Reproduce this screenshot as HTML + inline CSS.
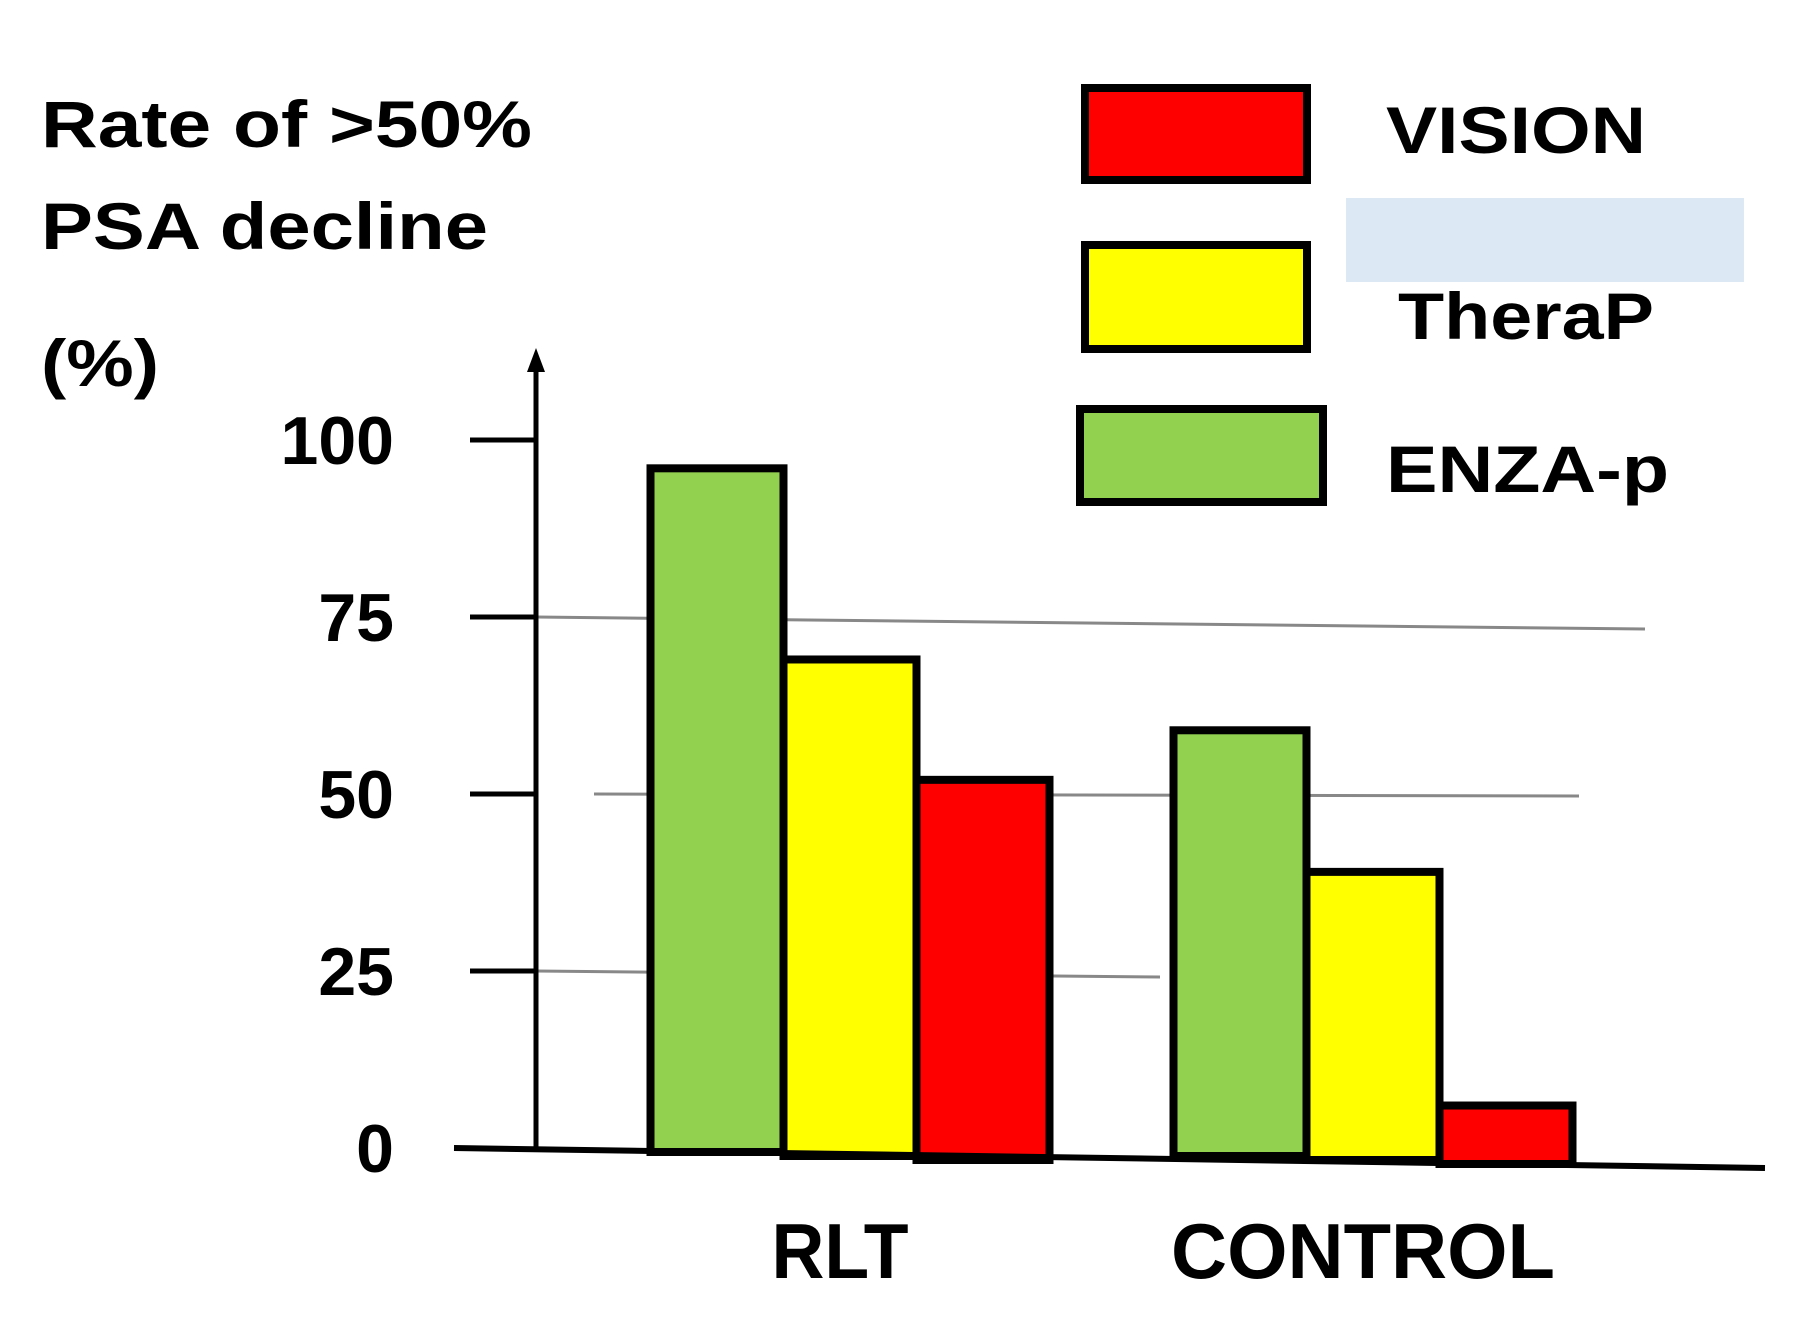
<!DOCTYPE html>
<html><head><meta charset="utf-8"><style>
html,body{margin:0;padding:0;background:#fff;}
svg{display:block;font-family:"Liberation Sans",Arial,sans-serif;font-weight:bold;}
</style></head><body>
<svg id="chart" width="1819" height="1342" viewBox="0 0 1819 1342" xmlns="http://www.w3.org/2000/svg">
<rect x="1346" y="198" width="398" height="84" fill="#dde8f5"/>
<text x="41" y="147" font-size="66" textLength="491" lengthAdjust="spacingAndGlyphs">Rate of &gt;50%</text>
<text x="41" y="249" font-size="66" textLength="447" lengthAdjust="spacingAndGlyphs">PSA decline</text>
<text x="41" y="386" font-size="66" textLength="118" lengthAdjust="spacingAndGlyphs">(%)</text>
<g id="grid"></g>
<g id="bars"></g>
<g id="axes"></g>
<g>
<rect x="1085" y="88" width="222" height="92" fill="#ff0000" stroke="#000" stroke-width="8"/>
<rect x="1085" y="245" width="222" height="104" fill="#ffff00" stroke="#000" stroke-width="8"/>
<rect x="1080" y="409" width="243" height="93" fill="#92d050" stroke="#000" stroke-width="8"/>
<text x="1386" y="153" font-size="66" textLength="260" lengthAdjust="spacingAndGlyphs">VISION</text>
<text x="1398" y="339" font-size="66" textLength="256" lengthAdjust="spacingAndGlyphs">TheraP</text>
<text x="1386" y="492" font-size="66" textLength="283" lengthAdjust="spacingAndGlyphs">ENZA-p</text>
</g>
</svg>
<script>
const categories = ["RLT", "CONTROL"];
const seriesNames = ["ENZA-p", "TheraP", "VISION"];
const enzaValues = [96, 59];
const therapValues = [69, 39];
const visionValues = [52, 6];
const tickValues = [0, 25, 50, 75, 100];
const tickLabels = ["0", "25", "50", "75", "100"];

const NS = "http://www.w3.org/2000/svg";
const y0 = 1148, yTop = 440;
function yScale(v){ return y0 - (v/100)*(y0-yTop); }
const catCenters = [850, 1373];
function xBand(i){ return catCenters[i]; }
const barW = 133;
const colors = ["#92d050", "#ffff00", "#ff0000"];
const series = [enzaValues, therapValues, visionValues];
const labelLens = [137, 384];

function mk(tag, attrs, parent){
  const el = document.createElementNS(NS, tag);
  for (const k in attrs) el.setAttribute(k, attrs[k]);
  parent.appendChild(el);
  return el;
}
const grid = document.getElementById("grid");
const bars = document.getElementById("bars");
const axes = document.getElementById("axes");

[75, 50].forEach(v => {
  const y = yScale(v);
  const l = mk("line", {x1: v===75?536:594, x2: v===75?1645:1579, y1: y, y2: y + (v===75?12:2), stroke: "#888", "stroke-width": 3}, grid);
  
  
});
{
  const y = yScale(25);
  const l = mk("line", {x1: 536, x2: 1160, y1: y, y2: y + 6, stroke: "#888", "stroke-width": 3}, grid);
  
  
}

categories.forEach((c, i) => {
  series.forEach((vals, s) => {
    const x = xBand(i) + (s - 1.5) * barW;
    const top = yScale(vals[i]);
    const r = mk("rect", {x: x, y: top, width: barW, height: y0 + 4 + s*4 + i*4 - top, fill: colors[s], stroke: "#000", "stroke-width": 8}, bars);
    
    
  });
  const t = mk("text", {x: xBand(i) - 10, y: 1278, "font-size": 78, "text-anchor": "middle", textLength: labelLens[i], lengthAdjust: "spacingAndGlyphs"}, bars);
  t.textContent = c;
  
  
});

const xa = mk("line", {x1: 454, y1: y0, x2: 1765, y2: y0 + 20, stroke: "#000", "stroke-width": 6}, axes);


const ya = mk("line", {x1: 536, y1: y0, x2: 536, y2: 362, stroke: "#000", "stroke-width": 5}, axes);


const ar = mk("path", {d: "M536 348 L527 372 L545 372 Z", fill: "#000"}, axes);


tickValues.forEach((v, i) => {
  const y = yScale(v);
  if (v > 0) {
    const tk = mk("line", {x1: 470, y1: y, x2: 536, y2: y, stroke: "#000", "stroke-width": 5}, axes);
    
    
  }
  const t = mk("text", {x: 394, y: y + 24, "font-size": 68, "text-anchor": "end"}, axes);
  t.textContent = tickLabels[i];
  
  
});
</script>
</body></html>
